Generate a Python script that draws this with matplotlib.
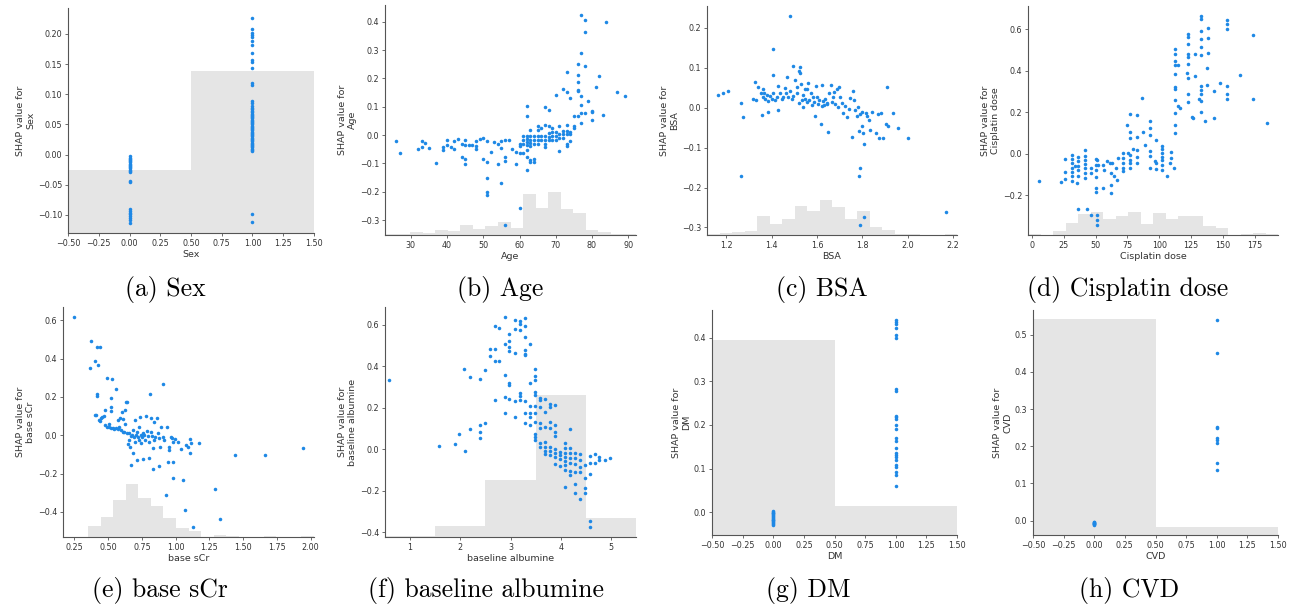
import numpy as np
import matplotlib.pyplot as plt

W, H = 1298, 608
BLUE = "#1E88E5"
AXC = "#333333"

# ---------------- data ----------------
# (a) Sex: binary feature
sex_y0 = [-0.003, -0.005, -0.007, -0.009, -0.011, -0.013, -0.015, -0.017, -0.019, -0.021,
          -0.023, -0.025, -0.027, -0.029, -0.043, -0.046, -0.090, -0.093, -0.096, -0.099,
          -0.102, -0.105, -0.109, -0.113]
sex_y1 = [0.226, 0.208, 0.202, 0.199, 0.195, 0.188, 0.181, 0.168, 0.157, 0.154, 0.143, 0.119,
          0.116, 0.088, 0.086, 0.080, 0.077, 0.075, 0.072, 0.070, 0.068, 0.066, 0.064, 0.062,
          0.060, 0.058, 0.056, 0.054, 0.052, 0.050, 0.048, 0.046, 0.044, 0.042, 0.040, 0.038,
          0.036, 0.034, 0.032, 0.030, 0.028, 0.026, 0.024, 0.022, 0.020, 0.018, 0.016, 0.014,
          0.012, 0.010, 0.008, 0.006, -0.098, -0.112]
sex_hist = [0.281, 0.719]

# (b) Age
age_pts = [(26, -0.022), (27, -0.062), (32, -0.049), (33, -0.022), (33, -0.044), (34, -0.029),
           (35, -0.046), (37, -0.099), (39, -0.044), (39, -0.053), (40, -0.018), (40, -0.037),
           (41, -0.044), (42, -0.049), (42, -0.022), (43, -0.015), (44, -0.076), (44, -0.031),
           (45, -0.018), (45, -0.037), (45, -0.083), (45, -0.102), (46, -0.037), (47, -0.035),
           (48, -0.022), (48, -0.040), (48, -0.049), (49, -0.015), (50, -0.011), (50, -0.085),
           (51, -0.022), (51, -0.097), (51, -0.150), (51, -0.201), (51, -0.211), (52, -0.059),
           (53, -0.025), (54, -0.031), (54, -0.104), (55, -0.022), (55, -0.171), (55, -0.046),
           (56, -0.018), (56, -0.076), (56, -0.092), (56, -0.316), (57, -0.018), (58, -0.049),
           (59, -0.102), (59, -0.059), (60, -0.031), (60, -0.062), (60, -0.256), (60, -0.040),
           (61, -0.062), (61, -0.005), (61, -0.019), (61, -0.030),
           (62, 0.103), (62, 0.067), (62, -0.002), (62, -0.013), (62, -0.025), (62, -0.037),
           (62, -0.052), (62, -0.076), (62, -0.122),
           (63, 0.016), (63, -0.002), (63, -0.017), (63, -0.029), (63, -0.040), (63, -0.088),
           (63, -0.096), (64, -0.004), (64, -0.017), (64, -0.031), (64, -0.083), (64, -0.097),
           (65, 0.033), (65, 0.016), (65, -0.005), (65, -0.017), (65, -0.031),
           (66, 0.025), (66, -0.002), (66, -0.017),
           (67, 0.036), (67, 0.098), (67, -0.005), (67, -0.017), (67, -0.031), (67, -0.044),
           (68, 0.033), (68, 0.087), (68, 0.007), (68, -0.008), (68, -0.017),
           (69, 0.025), (69, 0.012), (69, -0.002), (69, -0.017),
           (70, 0.142), (70, 0.010), (70, -0.005), (70, -0.017),
           (71, 0.033), (71, -0.056), (71, 0.002), (71, -0.009),
           (72, 0.162), (72, 0.015), (72, 0.002), (72, -0.010),
           (73, 0.221), (73, 0.151), (73, 0.037), (73, 0.015), (73, 0.002), (73, -0.032),
           (73, -0.038), (74, 0.130), (74, 0.012), (74, -0.022), (74, 0.002),
           (75, 0.066), (75, 0.025), (75, 0.033),
           (76, 0.249), (76, 0.212), (76, 0.186), (76, 0.160), (76, 0.155), (76, 0.068),
           (77, 0.422), (77, 0.289), (77, 0.136), (77, 0.107), (77, 0.077), (77, 0.041),
           (78, 0.407), (78, 0.362), (78, 0.244), (78, 0.077),
           (79, 0.121), (80, 0.084), (80, 0.054), (80, 0.080), (81, 0.168), (82, 0.208),
           (83, 0.069), (84, 0.400), (87, 0.151), (89, 0.138)]
age_hist = [0.003, 0.003, 0.013, 0.007, 0.023, 0.017, 0.043, 0.026, 0.038, 0.057,
            0.030, 0.177, 0.119, 0.187, 0.112, 0.094, 0.023, 0.013, 0.006, 0.006]

# (c) BSA
bsa_pts = [(1.165, 0.033), (1.185, 0.037), (1.209, 0.042), (1.266, 0.013), (1.266, -0.170),
           (1.273, -0.022), (1.320, 0.021), (1.328, 0.064), (1.333, 0.019), (1.342, 0.052),
           (1.352, 0.036), (1.357, -0.019), (1.361, 0.028), (1.361, 0.047), (1.367, 0.037),
           (1.372, 0.023), (1.379, 0.033), (1.383, 0.018), (1.386, -0.011), (1.394, 0.030),
           (1.401, 0.023), (1.404, 0.081), (1.405, 0.147), (1.408, 0.037), (1.416, 0.019),
           (1.423, 0.026), (1.427, 0.054), (1.430, -0.006), (1.435, 0.036), (1.445, 0.023),
           (1.452, 0.028), (1.460, 0.049), (1.464, 0.036), (1.467, 0.076), (1.474, 0.026),
           (1.479, 0.229), (1.481, 0.042), (1.489, 0.021), (1.493, 0.105), (1.496, 0.029),
           (1.504, 0.069), (1.511, 0.051), (1.514, 0.036), (1.520, 0.092), (1.523, 0.011),
           (1.525, 0.102), (1.527, 0.087), (1.531, 0.059), (1.534, 0.019), (1.537, 0.003),
           (1.540, 0.033), (1.546, 0.046), (1.549, 0.021), (1.555, 0.046), (1.558, 0.015),
           (1.562, 0.061), (1.567, 0.019), (1.572, 0.037), (1.577, 0.007), (1.581, 0.026),
           (1.587, 0.014), (1.593, -0.021), (1.596, 0.054), (1.599, 0.028), (1.605, 0.009),
           (1.611, 0.019), (1.618, -0.040), (1.621, 0.004), (1.624, 0.056), (1.628, 0.018),
           (1.633, 0.006), (1.637, 0.023), (1.643, 0.009), (1.646, 0.011), (1.650, -0.062),
           (1.655, 0.036), (1.660, 0.056), (1.665, 0.015), (1.669, 0.026), (1.675, 0.039),
           (1.679, 0.009), (1.687, 0.046), (1.694, 0.003), (1.699, 0.051), (1.701, 0.028),
           (1.709, 0.013), (1.716, -0.012), (1.723, 0.004), (1.734, -0.024), (1.742, -0.002),
           (1.748, 0.024), (1.754, -0.074), (1.760, 0.041), (1.765, 0.019), (1.767, -0.006),
           (1.775, -0.021), (1.781, 0.003), (1.784, -0.059), (1.787, -0.170), (1.789, -0.016),
           (1.791, -0.151), (1.789, -0.293), (1.797, -0.047), (1.801, -0.011), (1.804, -0.064),
           (1.806, -0.090), (1.808, -0.273), (1.816, -0.014), (1.823, -0.021), (1.830, -0.031),
           (1.836, -0.055), (1.842, -0.010), (1.860, -0.064), (1.869, -0.016), (1.872, -0.077),
           (1.883, -0.012), (1.892, -0.077), (1.904, -0.040), (1.910, 0.052), (1.913, -0.047),
           (1.936, -0.014), (1.957, -0.052), (2.000, -0.077), (2.168, -0.261)]
bsa_hist = [0.003, 0.007, 0.013, 0.019, 0.083, 0.049, 0.070, 0.126, 0.106, 0.151,
            0.121, 0.070, 0.106, 0.035, 0.023, 0.006, 0.003, 0.0, 0.0, 0.003]

# (d) Cisplatin dose
cis_pts = [(5.8, -0.130), (23.0, -0.139), (26.3, -0.090), (26.3, -0.027), (26.3, -0.122),
           (31.5, -0.006), (31.5, -0.027), (31.5, -0.046), (31.5, -0.067), (31.5, -0.088),
           (31.5, -0.107), (31.5, -0.134), (33.9, -0.062), (35.0, -0.142), (36.5, -0.014),
           (36.5, -0.035), (36.5, -0.059), (36.5, -0.078), (36.5, -0.107), (36.5, -0.267),
           (41.3, 0.018), (41.3, -0.011), (41.3, -0.030), (41.3, -0.050), (41.3, -0.070),
           (41.3, -0.094), (41.3, -0.118), (43.3, -0.267), (46.1, -0.094), (46.1, -0.070),
           (46.1, -0.294), (50.1, -0.027), (50.1, -0.054), (50.1, -0.078), (50.1, -0.114),
           (50.1, -0.166), (50.1, -0.187), (51.4, -0.294), (51.4, -0.318), (51.4, -0.342),
           (51.4, -0.030), (52.2, -0.054), (56.1, -0.166), (56.1, -0.054), (56.6, -0.078),
           (58.6, -0.038), (61.3, -0.046), (61.8, -0.094), (61.8, -0.150), (61.8, -0.190),
           (62.6, -0.046), (64.4, -0.110), (66.0, -0.070), (67.0, -0.126), (67.8, -0.022),
           (71.8, 0.002), (71.8, -0.022), (71.8, -0.046), (71.8, -0.070), (71.8, -0.086),
           (74.4, 0.138), (75.6, 0.002), (76.9, -0.006), (76.9, -0.030), (76.9, -0.046),
           (76.9, -0.070), (77.4, 0.190), (77.4, 0.106), (77.4, 0.074), (79.0, 0.021),
           (82.2, 0.186), (82.2, 0.082), (82.2, 0.018), (82.2, -0.014), (82.2, -0.043),
           (86.1, 0.270), (87.4, 0.102), (89.2, 0.043), (92.6, 0.157), (92.6, 0.125),
           (92.6, 0.090), (92.6, 0.014), (92.6, -0.011), (93.1, -0.070), (96.5, -0.038),
           (97.3, 0.066), (97.3, -0.046), (97.3, -0.075), (102.3, 0.038), (102.3, 0.021),
           (102.3, 0.002), (102.3, -0.014), (102.3, -0.030), (102.3, -0.054), (102.3, -0.078),
           (106.2, -0.110), (108.7, -0.043), (109.5, 0.010), (109.5, -0.022), (111.3, -0.067),
           (112.4, 0.506), (112.4, 0.482), (112.4, 0.446), (112.4, 0.426), (112.4, 0.382),
           (112.4, 0.322), (112.4, 0.309), (112.4, 0.258), (112.4, 0.197), (112.4, 0.138),
           (112.4, 0.098), (114.8, 0.426), (114.8, 0.229), (116.1, 0.218), (121.8, 0.386),
           (122.6, 0.578), (122.6, 0.562), (122.6, 0.530), (122.6, 0.482), (122.6, 0.466),
           (122.6, 0.430), (122.6, 0.366), (122.6, 0.286), (122.6, 0.248), (125.4, 0.178),
           (126.5, 0.170), (128.0, 0.478), (128.0, 0.373), (131.1, 0.261), (133.0, 0.661),
           (133.0, 0.650), (133.0, 0.590), (133.0, 0.554), (133.0, 0.514), (133.0, 0.474),
           (133.0, 0.325), (133.0, 0.306), (133.0, 0.286), (133.0, 0.254), (133.0, 0.202),
           (135.6, 0.158), (137.5, 0.411), (138.3, 0.606), (138.3, 0.558), (138.3, 0.485),
           (137.5, 0.330), (143.4, 0.170), (143.4, 0.302), (147.4, 0.338), (153.1, 0.646),
           (153.1, 0.626), (153.1, 0.602), (153.1, 0.325), (153.1, 0.286), (153.1, 0.264),
           (163.8, 0.378), (173.9, 0.570), (173.9, 0.262), (184.4, 0.149)]
cis_hist = [0.003, 0.0, 0.017, 0.054, 0.093, 0.100, 0.068, 0.083, 0.100, 0.049,
            0.097, 0.068, 0.083, 0.083, 0.039, 0.031, 0.0, 0.004, 0.007, 0.004]

# (e) base sCr
scr_pts = [(0.250, 0.614), (0.376, 0.491), (0.366, 0.349), (0.399, 0.389), (0.414, 0.461),
           (0.438, 0.461), (0.428, 0.364), (0.399, 0.104), (0.414, 0.213), (0.414, 0.205),
           (0.409, 0.106), (0.433, 0.080), (0.438, 0.073), (0.446, 0.089), (0.458, 0.094),
           (0.471, 0.101), (0.478, 0.132), (0.488, 0.300), (0.478, 0.054), (0.488, 0.045),
           (0.503, 0.059), (0.508, 0.045), (0.520, 0.037), (0.520, 0.193), (0.528, 0.293),
           (0.520, 0.146), (0.523, 0.127), (0.533, 0.037), (0.545, 0.032), (0.557, 0.241),
           (0.557, 0.037), (0.570, 0.077), (0.570, 0.032), (0.582, 0.045), (0.587, 0.089),
           (0.595, 0.028), (0.602, 0.123), (0.607, 0.019), (0.612, 0.084), (0.619, 0.019),
           (0.627, 0.132), (0.627, 0.059), (0.632, 0.175), (0.637, 0.011), (0.642, 0.175),
           (0.644, -0.045), (0.652, -0.024), (0.657, 0.011), (0.661, -0.059), (0.666, -0.154),
           (0.671, -0.003), (0.676, 0.002), (0.681, -0.093), (0.686, 0.028), (0.691, -0.007),
           (0.696, -0.033), (0.701, 0.077), (0.706, 0.002), (0.711, -0.128), (0.716, 0.019),
           (0.721, -0.007), (0.726, 0.045), (0.731, -0.024), (0.736, 0.097), (0.741, 0.002),
           (0.746, -0.038), (0.751, -0.007), (0.756, -0.124), (0.761, 0.014), (0.768, 0.002),
           (0.773, -0.024), (0.780, 0.101), (0.785, 0.024), (0.793, -0.003), (0.800, -0.119),
           (0.805, -0.033), (0.810, 0.215), (0.818, 0.089), (0.818, 0.019), (0.825, -0.003),
           (0.830, -0.176), (0.830, -0.067), (0.838, 0.071), (0.842, -0.024), (0.850, -0.007),
           (0.860, 0.089), (0.867, 0.014), (0.875, -0.159), (0.880, -0.015), (0.885, -0.059),
           (0.892, 0.045), (0.904, 0.267), (0.904, -0.007), (0.917, -0.024), (0.929, -0.310),
           (0.937, 0.045), (0.942, -0.142), (0.949, -0.076), (0.954, -0.059), (0.966, -0.007),
           (0.974, -0.015), (0.979, -0.223), (0.979, -0.142), (0.984, -0.033), (0.999, -0.020),
           (1.016, -0.033), (1.041, -0.072), (1.058, -0.232), (1.066, -0.388), (1.078, -0.050),
           (1.090, -0.059), (1.103, -0.020), (1.108, -0.093), (1.115, -0.041), (1.128, -0.476),
           (1.177, -0.041), (1.289, -0.280), (1.326, -0.436), (1.440, -0.105), (1.661, -0.105),
           (1.941, -0.066)]
scr_hist = [0.0, 0.0, 0.049, 0.088, 0.159, 0.232, 0.171, 0.133, 0.082, 0.038,
            0.027, 0.0, 0.009, 0.004, 0.0, 0.0, 0.004, 0.0, 0.0, 0.004]

# (f) baseline albumine
alb_pts = [(0.57, 0.332), (1.58, 0.017), (1.89, 0.023), (1.98, 0.073), (2.08, 0.387),
           (2.10, -0.009), (2.19, 0.347), (2.19, 0.098), (2.39, 0.336), (2.39, 0.116),
           (2.39, 0.082), (2.39, 0.052), (2.49, 0.380), (2.49, 0.127), (2.59, 0.485),
           (2.59, 0.449), (2.69, 0.592), (2.69, 0.485), (2.69, 0.425), (2.69, 0.236),
           (2.78, 0.586), (2.78, 0.425), (2.89, 0.635), (2.89, 0.505), (2.89, 0.356),
           (2.89, 0.252), (2.89, 0.175), (2.98, 0.554), (2.98, 0.521), (2.98, 0.493),
           (2.98, 0.473), (2.98, 0.320), (2.98, 0.308), (2.98, 0.243), (3.08, 0.624),
           (3.08, 0.581), (3.08, 0.465), (3.08, 0.231), (3.08, 0.153), (3.18, 0.618),
           (3.18, 0.602), (3.18, 0.573), (3.18, 0.271), (3.18, 0.255), (3.18, 0.236),
           (3.28, 0.634), (3.28, 0.592), (3.28, 0.541), (3.28, 0.477), (3.28, 0.461),
           (3.28, 0.453), (3.28, 0.231), (3.28, 0.175), (3.28, 0.124), (3.38, 0.505),
           (3.38, 0.320), (3.38, 0.207), (3.38, 0.175), (3.38, 0.156), (3.38, 0.116),
           (3.48, 0.388), (3.48, 0.352), (3.48, 0.332), (3.48, 0.276), (3.48, 0.260),
           (3.48, 0.207), (3.48, 0.172), (3.48, 0.132), (3.48, 0.073), (3.48, 0.057),
           (3.48, 0.044), (3.58, 0.249), (3.58, 0.236), (3.58, 0.204), (3.58, 0.124),
           (3.58, 0.100), (3.58, 0.028), (3.58, 0.012), (3.68, 0.244), (3.68, 0.180),
           (3.68, 0.105), (3.68, 0.036), (3.68, 0.012), (3.68, -0.009), (3.68, -0.023),
           (3.78, 0.217), (3.78, 0.204), (3.78, 0.132), (3.78, 0.100), (3.78, 0.012),
           (3.78, -0.009), (3.78, -0.028), (3.88, 0.212), (3.88, 0.116), (3.88, 0.084),
           (3.88, 0.063), (3.88, -0.001), (3.88, -0.020), (3.88, -0.039), (3.88, -0.071),
           (3.98, -0.012), (3.98, -0.028), (3.98, -0.049), (3.98, -0.081), (4.08, 0.028),
           (4.08, 0.004), (4.08, -0.017), (4.08, -0.036), (4.08, -0.057), (4.08, -0.076),
           (4.08, -0.100), (4.08, -0.180), (4.18, 0.095), (4.18, 0.004), (4.18, -0.020),
           (4.18, -0.044), (4.18, -0.068), (4.18, -0.104), (4.18, -0.124), (4.28, -0.017),
           (4.28, -0.044), (4.28, -0.071), (4.28, -0.108), (4.28, -0.168), (4.28, -0.212),
           (4.38, -0.023), (4.38, -0.052), (4.38, -0.084), (4.38, -0.108), (4.38, -0.241),
           (4.48, -0.076), (4.48, -0.137), (4.48, -0.188), (4.48, -0.212), (4.58, -0.033),
           (4.58, -0.068), (4.58, -0.120), (4.58, -0.344), (4.58, -0.373), (4.68, -0.023),
           (4.68, -0.068), (4.77, -0.039), (4.77, -0.052), (4.89, -0.052), (4.99, -0.044)]
alb_hist = [0.006, 0.049, 0.248, 0.617, 0.084]

# (g) DM: binary feature
dm_y0 = [0.003, 0.001, -0.001, -0.003, -0.005, -0.007, -0.009, -0.011, -0.013, -0.015,
         -0.017, -0.019, -0.021, -0.023, -0.025, -0.027, -0.029]
dm_y1 = [0.440, 0.436, 0.432, 0.422, 0.405, 0.400, 0.282, 0.277, 0.221, 0.217, 0.213,
         0.200, 0.190, 0.169, 0.164, 0.146, 0.136, 0.131, 0.126, 0.120, 0.108, 0.103,
         0.093, 0.084, 0.059]
dm_hist = [0.867, 0.129]

# (h) CVD: binary feature
cvd_y0 = [-0.003, -0.004, -0.005, -0.006, -0.007, -0.008, -0.009, -0.010, -0.011]
cvd_y1 = [0.539, 0.452, 0.253, 0.250, 0.221, 0.217, 0.208, 0.155, 0.137]
cvd_hist = [0.960, 0.037]

# tick values
bin_ticks = [-0.5, -0.25, 0.0, 0.25, 0.5, 0.75, 1.0, 1.25, 1.5]
sex_yticks = [-0.10, -0.05, 0.0, 0.05, 0.10, 0.15, 0.20]
age_xticks = [30, 40, 50, 60, 70, 80, 90]
age_yticks = [-0.3, -0.2, -0.1, 0.0, 0.1, 0.2, 0.3, 0.4]
bsa_xticks = [1.2, 1.4, 1.6, 1.8, 2.0, 2.2]
bsa_yticks = [-0.3, -0.2, -0.1, 0.0, 0.1, 0.2]
cis_xticks = [0, 25, 50, 75, 100, 125, 150, 175]
cis_yticks = [-0.2, 0.0, 0.2, 0.4, 0.6]
scr_xticks = [0.25, 0.5, 0.75, 1.0, 1.25, 1.5, 1.75, 2.0]
scr_yticks = [-0.4, -0.2, 0.0, 0.2, 0.4, 0.6]
alb_xticks = [1, 2, 3, 4, 5]
alb_yticks = [-0.4, -0.2, 0.0, 0.2, 0.4, 0.6]
dm_yticks = [0.0, 0.1, 0.2, 0.3, 0.4]
cvd_yticks = [0.0, 0.1, 0.2, 0.3, 0.4, 0.5]

fig = plt.figure(figsize=(W / 100, H / 100), dpi=100)


def binary(y0, y1):
    return [(0, v) for v in y0] + [(1, v) for v in y1]


def panel(box, pts, name, hist, xticks, yticks, xlim=None, edges=None):
    l, t, r, b = box
    ax = fig.add_axes([l / W, 1 - b / H, (r - l) / W, (b - t) / H])
    xs = [p[0] for p in pts]
    ys = [p[1] for p in pts]
    ax.scatter(xs, ys, s=6.5, color=BLUE, linewidths=0, zorder=3)
    if xlim is not None:
        ax.set_xlim(xlim)
    x0, x1 = ax.get_xlim()
    y0, y1 = ax.get_ylim()
    if edges is None:
        edges = np.linspace(x0, x1, len(hist) + 1)

    # histogram of the feature in the background
    ax2 = ax.twinx()
    ax2.stairs(hist, edges, fill=True, color="black", alpha=0.1, linewidth=0)
    ax2.set_ylim(0, 1)
    ax2.set_yticks([])
    for s in ax2.spines.values():
        s.set_visible(False)
    ax.set_zorder(ax2.get_zorder() + 1)
    ax.patch.set_visible(False)

    ax.set_xticks(xticks)
    ax.set_yticks(yticks)
    ax.set_xlim(x0, x1)
    ax.set_ylim(y0, y1)
    ax.spines["top"].set_visible(False)
    ax.spines["right"].set_visible(False)
    for s in ["left", "bottom"]:
        ax.spines[s].set_color("#555555")
        ax.spines[s].set_linewidth(0.8)
    ax.tick_params(length=2.5, width=0.6, color="#555555", labelcolor=AXC, labelsize=5.8, pad=1.5)
    ax.set_xlabel(name, fontsize=6.8, color=AXC, labelpad=1.5)
    ax.set_ylabel("SHAP value for\n" + name, fontsize=6.8, color=AXC, labelpad=2)
    return ax


panel((68, 8, 314, 233), binary(sex_y0, sex_y1), "Sex", sex_hist, bin_ticks, sex_yticks,
      xlim=(-0.5, 1.5), edges=[-0.5, 0.5, 1.5])
panel((385, 5, 636, 235), age_pts, "Age", age_hist, age_xticks, age_yticks)
panel((707, 6, 957, 235), bsa_pts, "BSA", bsa_hist, bsa_xticks, bsa_yticks)
panel((1028, 6, 1278, 235), cis_pts, "Cisplatin dose", cis_hist, cis_xticks, cis_yticks)
panel((63, 307, 314, 537), scr_pts, "base sCr", scr_hist, scr_xticks, scr_yticks)
panel((385, 307, 636, 537), alb_pts, "baseline albumine", alb_hist, alb_xticks, alb_yticks,
      xlim=(0.5, 5.5), edges=[0.5, 1.5, 2.5, 3.5, 4.5, 5.5])
panel((712, 310, 957, 535), binary(dm_y0, dm_y1), "DM", dm_hist, bin_ticks, dm_yticks,
      xlim=(-0.5, 1.5), edges=[-0.5, 0.5, 1.5])
panel((1033, 310, 1278, 535), binary(cvd_y0, cvd_y1), "CVD", cvd_hist, bin_ticks, cvd_yticks,
      xlim=(-0.5, 1.5), edges=[-0.5, 0.5, 1.5])

# sub-figure captions
captions = ["(a) Sex", "(b) Age", "(c) BSA", "(d) Cisplatin dose",
            "(e) base sCr", "(f) baseline albumine", "(g) DM", "(h) CVD"]
cap_x = [165, 500, 822, 1128, 160, 486, 808, 1129]
cap_y = [296, 296, 296, 296, 597, 597, 597, 597]
for txt, cx, cy in zip(captions, cap_x, cap_y):
    fig.text(cx / W, 1 - cy / H, txt, ha="center", va="baseline",
             fontfamily="cmr10", fontsize=18.5, color="black")

fig.savefig("out.png", dpi=100)
